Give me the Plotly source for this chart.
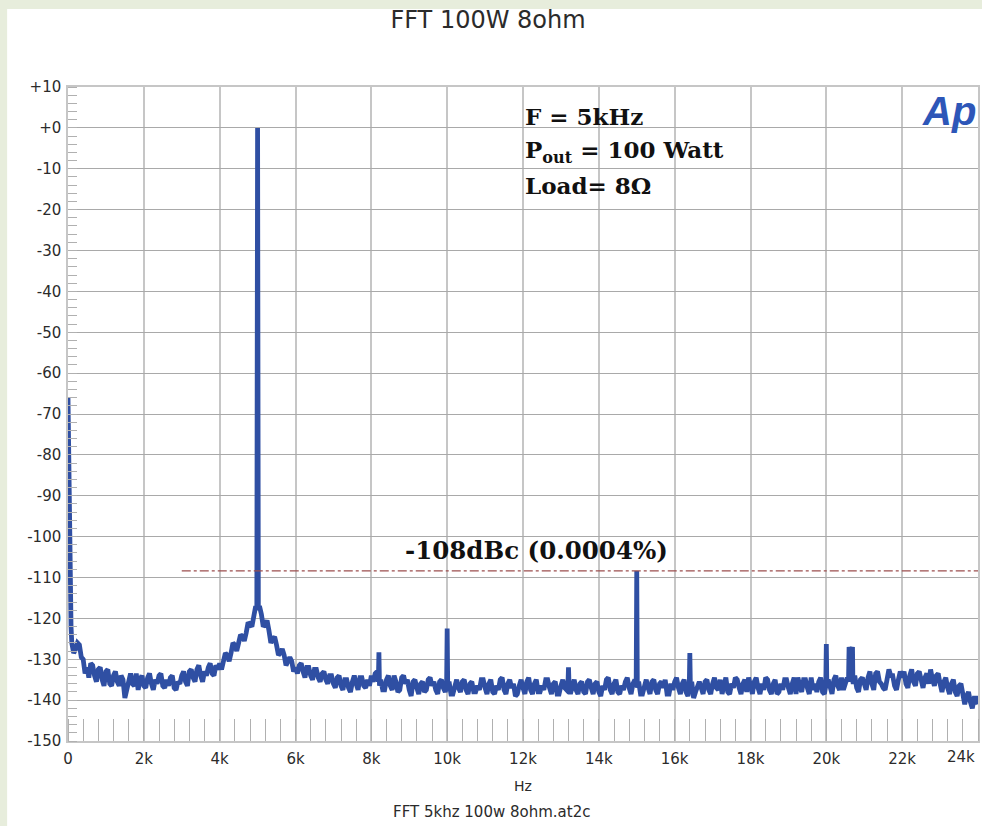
import plotly.graph_objects as go

# ---------------- data ----------------
# DC leakage at the very bottom of the spectrum
lf_hz = [0, 20, 35, 65, 80]
lf_db = [-66, -88, -101, -118, -122]

# noise floor, 100 Hz .. 24 kHz in 100 Hz steps (one row per kHz)
floor_hz = list(range(100, 24001, 100))
floor_db = [
    -126, -127.5, -126.5, -130, -132, -131, -134, -132.5, -135, -133,
    -136, -134, -135.5, -134, -139.5, -134.5, -136, -133.5, -135, -136.5,
    -134.5, -136, -135, -134, -136.5, -135, -134.5, -137, -135.5, -134,
    -135.5, -133, -134.5, -132.5, -134, -133, -132, -133.5, -131.5, -131,
    -130.5, -129, -128.5, -126.5, -126, -124.5, -123.5, -121.5, -119.5, -117.5,
    -119, -121.5, -123, -125, -126.5, -128.5, -129, -130.5, -130.5, -132,
    -131.5, -133, -132, -134, -132.5, -134.5, -133.5, -135, -134, -136,
    -134.5, -136.5, -135, -137, -135.5, -136, -134.5, -136.5, -135, -134,
    -133.5, -136, -137.5, -135, -136.5, -134, -138, -134.5, -136, -137.5,
    -135.5, -137, -136, -138, -135, -136.5, -137.5, -135.5, -137, -136,
    -138.5, -136, -137, -135.5, -137.5, -136, -138, -136.5, -135, -137,
    -136, -138, -136.5, -135, -137.5, -136, -137, -139, -136.5, -137,
    -135.5, -137.5, -136, -138, -136.5, -135, -137, -136, -138.5, -136.5,
    -137, -134.5, -136, -137.5, -136, -138, -135.5, -137, -136, -138,
    -136.5, -135, -137.5, -136, -138, -136.5, -135.5, -137, -136, -137,
    -138.5, -136, -137, -135.5, -137.5, -136, -137, -138.5, -136, -135.5,
    -137, -136, -138, -136, -139.5, -136.5, -137, -135.5, -137.5, -136,
    -137, -135, -136.5, -138, -136, -134.5, -137, -136, -138, -136.5,
    -135.5, -137, -136, -134.5, -137.5, -136, -138.5, -136, -135, -137,
    -136, -138.5, -136.5, -135, -137, -134.5, -136, -135.5, -138, -136,
    -137.5, -135, -136.5, -134.5, -136, -135, -135.5, -137, -135, -136.5,
    -134.5, -136, -133.5, -135.5, -137, -135, -134, -136.5, -135, -134.5,
    -136, -134, -135.5, -133.5, -135, -134.5, -136, -135, -134, -136,
    -135.5, -137, -136, -138, -136.5, -138.5, -139, -140.5, -139.5, -141,
]

# noise floor in between, 50 Hz .. 23.95 kHz (one row per kHz)
floor_mid_hz = list(range(50, 24000, 100))
floor_mid_db = [
    -110, -128.5, -126, -129.5, -133.5, -134.5, -131.5, -135.5, -132, -136.5,
    -132.5, -136.5, -133, -136.5, -135, -137, -133.5, -136.5, -137.5, -134,
    -137, -133.5, -137.5, -136, -133.5, -137, -136.5, -134, -137.5, -136,
    -133, -136.5, -132.5, -135.5, -131.5, -135.5, -134, -131, -134, -132.5,
    -132.5, -128.5, -130.5, -126, -128, -124, -125.5, -121, -122, -117,
    -117, -122, -120.5, -126, -124.5, -129, -127.5, -131.5, -129.5, -133,
    -133.5, -131, -134.5, -132, -135, -132.5, -135.5, -133, -136, -134,
    -137, -134, -137.5, -135, -138, -134, -137.5, -134.5, -137, -136.5,
    -135.5, -133, -135, -137.5, -134, -137.5, -135.5, -137.5, -134, -135,
    -139, -135, -138.5, -135.5, -137.5, -134.5, -135.5, -138.5, -135, -138,
    -135.5, -138.5, -135, -138, -135, -138.5, -135.5, -138, -137.5, -135,
    -138.5, -135, -138.5, -137.5, -134.5, -138.5, -135, -136, -138.5, -135,
    -138.5, -134.5, -138.5, -135, -138, -137.5, -135, -138.5, -135.5, -138.5,
    -135, -137.5, -138.5, -135, -138.5, -135.5, -138.5, -135, -138.5, -135.5,
    -139, -137.5, -134.5, -138.5, -135, -138.5, -137.5, -134.5, -138.5, -135,
    -135.5, -138.5, -135, -138.5, -135, -138.5, -135.5, -135, -138.5, -137.5,
    -134.5, -138.5, -135, -139, -135.5, -138, -135.5, -138.5, -135, -138.5,
    -134.5, -137.5, -138.5, -134.5, -138.5, -137, -135, -138.5, -135, -134.5,
    -138.5, -134.5, -138.5, -137.5, -135, -138.5, -135, -138, -137.5, -135,
    -138.5, -134.5, -134.5, -138, -135, -138.5, -137.5, -138, -134.5, -138.5,
    -135, -138.5, -134, -137.5, -137.5, -134.5, -136, -134, -138, -134.5,
    -137.5, -133, -137.5, -133, -136, -137.5, -132.5, -134, -137.5, -133,
    -133, -137, -132.5, -136.5, -133, -137, -133.5, -132.5, -136.5, -133.5,
    -138, -134.5, -138.5, -135, -139, -136, -141, -138, -142, -139.5,
]

# fundamental and spurious tones (base, peak, base)
spur_hz = [4980, 5000, 5020,
           8185, 8200, 8215,
           9985, 10000, 10015,
           13185, 13200, 13215,
           14985, 15000, 15015,
           16385, 16400, 16415,
           19985, 20000, 20015,
           20585, 20600, 20625, 20650, 20675, 20690, 20710]
spur_db = [-118, 0, -118,
           -135.5, -128.3, -136.5,
           -136.5, -122.5, -137,
           -136.5, -132, -136.5,
           -136.5, -108.4, -137,
           -137, -128.5, -137,
           -136.5, -126.3, -137,
           -135.5, -127, -128, -128.5, -127.5, -127, -136]

threshold_db = -108.4
threshold_start_hz = 3000

x_tick_vals = [0, 2000, 4000, 6000, 8000, 10000, 12000, 14000, 16000, 18000, 20000, 22000]
x_tick_text = ["0", "2k", "4k", "6k", "8k", "10k", "12k", "14k", "16k", "18k", "20k", "22k"]
y_tick_vals = [10, 0, -10, -20, -30, -40, -50, -60, -70, -80, -90, -100, -110, -120, -130, -140, -150]
y_tick_text = ["+10", "+0", "-10", "-20", "-30", "-40", "-50", "-60", "-70", "-80", "-90",
               "-100", "-110", "-120", "-130", "-140", "-150"]

# ---------------- assemble spectrum ----------------
pts = dict(zip(lf_hz + floor_hz + floor_mid_hz, lf_db + floor_db + floor_mid_db))
pts.update(zip(spur_hz, spur_db))
xs = sorted(pts)
ys = [pts[f] for f in xs]

SANS = "DejaVu Sans"
SERIF = "DejaVu Serif"
TXT = "#2b2b2b"

fig = go.Figure()
fig.add_trace(go.Scatter(x=xs, y=ys, mode="lines",
                         line=dict(color="#2f4fa3", width=4.8),
                         hoverinfo="skip", showlegend=False))

fig.update_layout(
    width=982, height=826,
    margin=dict(l=68, r=2, t=87, b=85),
    paper_bgcolor="#e7eddc",
    plot_bgcolor="white",
    title=dict(text="FFT 100W 8ohm", x=(488 / 982), xanchor="center",
               y=1 - 20 / 826, yanchor="middle",
               font=dict(family=SANS, size=24, color=TXT)),
    showlegend=False,
)

fig.add_shape(type="rect", xref="paper", yref="paper",
              x0=(7 - 68) / 912, x1=1.05, y0=-0.3, y1=(741 - 9) / 654,
              fillcolor="white", line=dict(width=0), layer="below")

fig.update_xaxes(
    range=[0, 24000], tickmode="array", tickvals=x_tick_vals, ticktext=x_tick_text,
    ticks="", ticklabelstandoff=3,
    tickfont=dict(family=SANS, size=15, color=TXT),
    showgrid=True, gridcolor="#c6c6c6", gridwidth=1.5,
    showline=True, linecolor="#c6c6c6", linewidth=1.5, mirror=True,
    zeroline=False,
    minor=dict(tickmode="linear", tick0=0, dtick=400, ticks="inside", ticklen=22,
               tickcolor="#b0b0b0", tickwidth=1, showgrid=False),
)
fig.update_yaxes(
    range=[-150, 10], tickmode="array", tickvals=y_tick_vals, ticktext=y_tick_text,
    ticks="", ticklabelstandoff=2,
    tickfont=dict(family=SANS, size=15, color=TXT),
    showgrid=True, gridcolor="#a9a9a9", gridwidth=1,
    showline=True, linecolor="#c6c6c6", linewidth=1.5, mirror=True,
    zeroline=False,
    minor=dict(tickmode="linear", tick0=0, dtick=2, ticks="inside", ticklen=9,
               tickcolor="#b0b0b0", tickwidth=1, showgrid=False),
)

# threshold line
fig.add_shape(type="line", xref="x", yref="y",
              x0=threshold_start_hz, x1=24000, y0=threshold_db, y1=threshold_db,
              line=dict(color="#9c4f4f", width=1.2, dash="dashdot"))

# annotations
fig.add_annotation(x=(963 - 68) / 912, xref="paper", y=-(757 - 741) / 654, yref="paper",
                   text="24k", showarrow=False, xanchor="center", yanchor="middle",
                   font=dict(family=SANS, size=15, color=TXT))
fig.add_annotation(x=0.5, xref="paper", y=-(786 - 741) / 654, yref="paper",
                   text="Hz", showarrow=False, yanchor="middle",
                   font=dict(family=SANS, size=14, color=TXT))
fig.add_annotation(x=(492 - 68) / 912, xref="paper", y=-(812 - 741) / 654, yref="paper",
                   text="FFT 5khz 100w 8ohm.at2c", showarrow=False, yanchor="middle",
                   font=dict(family=SANS, size=15, color=TXT))

for txt, yv in [("<b>F = 5kHz</b>", 2.9),
                ("<b>P<sub>out</sub> = 100 Watt</b>", -5.9),
                ("<b>Load= 8Ω</b>", -14.2)]:
    fig.add_annotation(x=12000, y=yv, xref="x", yref="y", text=txt, showarrow=False,
                       xanchor="left", yanchor="middle",
                       font=dict(family=SERIF, size=23, color="#111111"))

fig.add_annotation(x=12368, y=-103.5, xref="x", yref="y",
                   text="<b>-108dBc (0.0004%)</b>", showarrow=False,
                   xanchor="center", yanchor="middle",
                   font=dict(family=SERIF, size=24.5, color="#111111"))

fig.add_annotation(x=(980 - 68) / 912, xref="paper", y=(741 - 111) / 654, yref="paper",
                   text="<b><i>Ap</i></b>", showarrow=False, xanchor="right", yanchor="middle",
                   font=dict(family="Liberation Sans", size=40, color="#2d56b8"))

fig.write_html("out.html", config={"displayModeBar": False},
               post_script="document.body.style.margin='0';document.body.style.overflow='hidden';")
